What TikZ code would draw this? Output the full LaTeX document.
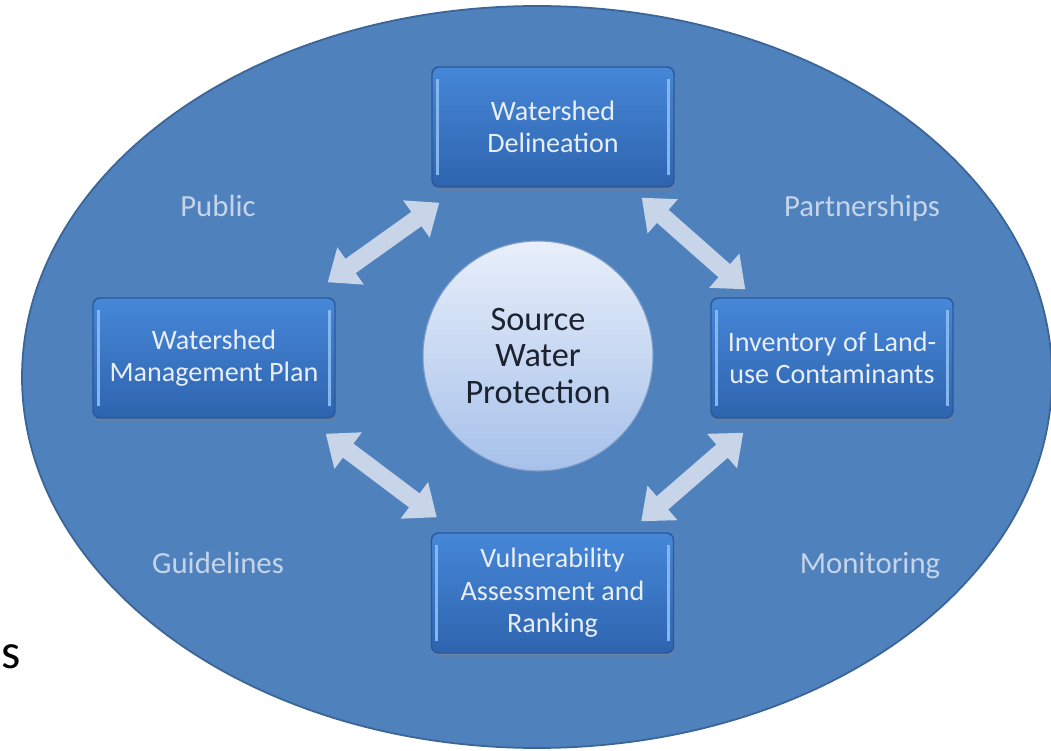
\documentclass[tikz,border=0pt]{standalone}
\usepackage{fontspec}
\setmainfont{Carlito}
\usepackage{tikz}
\usetikzlibrary{arrows.meta,shadows}
\definecolor{oval}{HTML}{4F81BD}
\definecolor{ovaledge}{HTML}{3B6596}
\definecolor{boxtop}{HTML}{4687D8}
\definecolor{boxbottom}{HTML}{2E64AE}
\definecolor{boxedge}{HTML}{2A599A}
\definecolor{boxshine}{HTML}{86B6EE}
\definecolor{boxtext}{HTML}{E8EEF8}
\definecolor{softlabel}{HTML}{C4D4EA}
\definecolor{hubtop}{HTML}{E8EFFA}
\definecolor{hubbottom}{HTML}{A6C1EA}
\definecolor{hubedge}{HTML}{7F9CC8}
\definecolor{hubtext}{HTML}{1C2230}
\definecolor{arrowgrey}{HTML}{C8D4E7}
\tikzset{>=stealth}
\tikzset{%
    stepbox/.style={%
        draw=boxedge, line width=0.8pt, rounded corners=4pt,
        top color=boxtop, bottom color=boxbottom, text=boxtext,
        minimum width=4.84cm, minimum height=2.4cm, align=center,
        font=\fontsize{16}{18.5}\selectfont,
        drop shadow={opacity=0.35, shadow xshift=0.5pt, shadow yshift=-2pt},
        path picture={%
            \draw[boxshine, line width=1.6pt]
                ([xshift=3pt,yshift=-7pt]path picture bounding box.north west) --
                ([xshift=3pt,yshift=7pt]path picture bounding box.south west);
            \draw[boxshine, line width=1.6pt]
                ([xshift=-3pt,yshift=-7pt]path picture bounding box.north east) --
                ([xshift=-3pt,yshift=7pt]path picture bounding box.south east);
        }
    },
    hub/.style={%
        circle, draw=hubedge, line width=0.6pt, top color=hubtop, bottom color=hubbottom,
        minimum size=4.6cm, align=center, text=hubtext,
        font=\fontsize{19.5}{20.8}\selectfont
    },
    corner/.style={text=softlabel, font=\fontsize{17.5}{21}\selectfont, anchor=base, inner sep=0pt},
    link/.style={%
        {Triangle[length=16pt,width=25pt]}-{Triangle[length=16pt,width=25pt]},
        draw=arrowgrey, line width=10pt
    }
}
\begin{document}
\begin{tikzpicture}
\useasboundingbox (0,0) rectangle (21.02,-15.02);

\filldraw[fill=oval, draw=ovaledge, line width=1pt] (10.74,-7.54) ellipse (10.30cm and 7.42cm);

\node[hub] (hub) at (10.76,-7.12) {Source\\Water\\Protection};

\node[stepbox] (tbox) at (11.06,-2.54) {Watershed\\Delineation};
\node[stepbox] (lbox) at (4.28,-7.16) {Watershed\\Management Plan};
\node[stepbox] (rbox) at (16.64,-7.16) {Inventory of Land-\\use Contaminants};
\node[stepbox] (bbox) at (11.05,-11.86) {Vulnerability\\Assessment and\\Ranking};

\draw[link] ([xshift=-0.16cm,yshift=0.30cm]lbox.north east) -- ([xshift=0.16cm,yshift=-0.30cm]tbox.south west);
\draw[link] ([xshift=-0.66cm,yshift=-0.20cm]tbox.south east) -- ([xshift=0.70cm,yshift=0.16cm]rbox.north west);
\draw[link] ([xshift=-0.20cm,yshift=-0.30cm]lbox.south east) -- ([xshift=0.12cm,yshift=0.30cm]bbox.north west);
\draw[link] ([xshift=0.66cm,yshift=-0.28cm]rbox.south west) -- ([xshift=-0.66cm,yshift=0.22cm]bbox.north east);

\node[corner] (public) at (4.36,-4.34) {Public};
\node[corner] (partners) at (17.24,-4.34) {Partnerships};
\node[corner] (guide) at (4.36,-11.46) {Guidelines};
\node[corner] (monitor) at (17.40,-11.46) {Monitoring};

\node[anchor=base west, inner sep=0pt, font=\fontsize{28}{34}\selectfont] (stray) at (0.02,-13.36) {s};
\end{tikzpicture}
\end{document}
